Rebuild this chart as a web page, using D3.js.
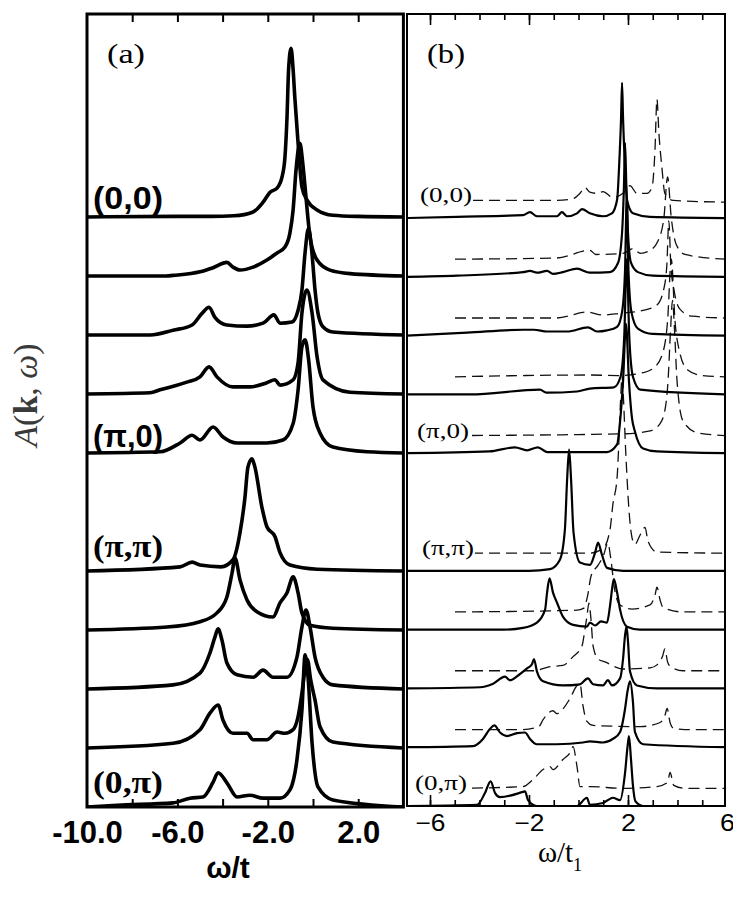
<!DOCTYPE html>
<html><head><meta charset="utf-8">
<script src="https://cdn.jsdelivr.net/npm/d3@7"></script>
<style>body{margin:0;background:#fff}</style>
</head><body>
<svg id="chart" width="733" height="907"></svg>
<script>
// ---------- DATA : [omega, A] pairs (A in units of curve spacing) ----------
// Panel (a)
const a_00  = [[-10,0],[-6,0.01],[-4.5,0.01],[-3.5,0.02],[-2.65,0.085],[-2.21,0.25],[-1.9,0.42],[-1.59,0.49],[-1.37,0.68],[-1.24,1.02],[-1.15,1.69],[-1.08,2.5],[-0.97,2.86],[-0.88,2.5],[-0.8,2.0],[-0.66,1.25],[-0.49,0.51],[-0.27,0.29],[0.18,0.12],[0.88,0.03],[2,0.01],[4,0]];
const a_k1  = [[-10,0],[-6.5,0],[-6.19,0.01],[-5.0,0.07],[-4.42,0.14],[-3.81,0.23],[-3.54,0.15],[-3.23,0.1],[-2.65,0.15],[-2.04,0.27],[-1.59,0.39],[-1.24,0.49],[-1.02,0.73],[-0.88,1.12],[-0.75,1.8],[-0.58,2.25],[-0.45,1.9],[-0.35,1.5],[-0.13,0.66],[0.18,0.27],[0.75,0.1],[1.64,0.04],[4,0]];
const a_k2  = [[-10,0],[-7.2,0],[-6.19,0.08],[-5.35,0.17],[-4.9,0.37],[-4.6,0.47],[-4.34,0.3],[-3.81,0.17],[-2.92,0.15],[-2.21,0.2],[-1.73,0.34],[-1.46,0.2],[-0.93,0.22],[-0.66,0.42],[-0.49,0.76],[-0.35,1.4],[-0.2,1.81],[-0.05,1.4],[0.09,0.76],[0.22,0.37],[0.44,0.14],[0.88,0.05],[4,0]];
const a_k3  = [[-10,0],[-7.21,0.02],[-6.77,0.07],[-5.58,0.2],[-5.0,0.29],[-4.6,0.46],[-4.25,0.29],[-3.54,0.12],[-2.79,0.12],[-2.04,0.19],[-1.68,0.24],[-1.46,0.15],[-0.88,0.24],[-0.66,0.53],[-0.49,1.37],[-0.27,1.76],[-0.04,1.37],[0.18,0.63],[0.44,0.24],[1.64,0.03],[4,0]];
const a_pi0 = [[-10,0],[-6.77,0.02],[-5.88,0.17],[-5.35,0.3],[-5.0,0.22],[-4.42,0.44],[-3.98,0.27],[-3.36,0.17],[-2.04,0.17],[-1.33,0.22],[-0.88,0.5],[-0.66,1.07],[-0.49,1.8],[-0.35,1.92],[-0.2,1.6],[0.0,0.78],[0.31,0.34],[0.88,0.1],[2.39,0.02],[4,0]];
const a_pipi= [[-10,0],[-5.88,0.07],[-5.35,0.15],[-5.0,0.1],[-4.07,0.07],[-3.54,0.19],[-3.23,0.65],[-3.01,1.25],[-2.88,1.76],[-2.7,1.9],[-2.57,1.76],[-2.26,1.08],[-2.04,0.75],[-1.68,0.58],[-1.46,0.31],[-1.02,0.1],[0.18,0.03],[4,0]];
const a_q3  = [[-10,0],[-6.46,0.05],[-5.0,0.14],[-4.25,0.29],[-3.81,0.56],[-3.58,0.97],[-3.45,1.22],[-3.23,0.85],[-2.92,0.51],[-2.48,0.31],[-1.77,0.22],[-1.46,0.46],[-1.15,0.63],[-0.88,0.9],[-0.66,0.63],[-0.49,0.29],[-0.13,0.08],[0.88,0.03],[4,0]];
const a_q2  = [[-10,0],[-6.19,0.07],[-5.0,0.27],[-4.56,0.61],[-4.34,0.88],[-4.2,1.02],[-4.03,0.83],[-3.81,0.44],[-3.36,0.24],[-2.65,0.2],[-2.21,0.32],[-1.77,0.2],[-1.15,0.2],[-0.71,0.54],[-0.49,1.05],[-0.31,1.34],[-0.13,1.05],[0.09,0.54],[0.44,0.2],[0.88,0.07],[4,0]];
const a_q1  = [[-10,0],[-6.19,0.08],[-5.0,0.31],[-4.56,0.59],[-4.2,0.73],[-3.98,0.47],[-3.54,0.25],[-2.92,0.25],[-2.65,0.14],[-2.04,0.14],[-1.59,0.27],[-1.24,0.25],[-0.88,0.31],[-0.66,0.53],[-0.49,0.93],[-0.35,1.35],[-0.25,1.5],[-0.1,1.15],[0.09,0.81],[0.31,0.36],[0.88,0.1],[4,0]];
const a_0pi = [[-10,0],[-8.67,0.03],[-6.19,0.07],[-5.44,0.15],[-4.87,0.17],[-4.42,0.42],[-4.2,0.58],[-3.81,0.41],[-3.36,0.17],[-2.79,0.2],[-2.21,0.15],[-1.46,0.15],[-1.02,0.29],[-0.71,0.8],[-0.49,1.64],[-0.35,2.58],[-0.22,2.2],[-0.04,1.08],[0.22,0.34],[0.88,0.12],[4,0]];

// Panel (b) solid
const b_00s  = [[-6.93,0],[-4.91,0.02],[-2.24,0.05],[-1.96,0.1],[-1.68,0.03],[-0.87,0.03],[-0.67,0.1],[-0.46,0.03],[-0.06,0.08],[0.14,0.15],[0.46,0.08],[0.99,0.03],[1.35,0.08],[1.56,0.31],[1.64,0.87],[1.72,1.7],[1.76,2.3],[1.8,1.7],[1.88,0.87],[1.96,0.31],[2.2,0.08],[2.89,0.02],[5.92,0]];
const b_k1s  = [[-6.93,0],[-4.91,0.02],[-2.24,0.08],[-1.96,0.1],[-1.68,0.07],[-1.27,0.1],[-1.03,0.05],[-0.63,0.08],[-0.06,0.14],[0.46,0.07],[1.27,0.08],[1.6,0.24],[1.76,0.75],[1.84,1.6],[1.88,2.28],[1.93,1.6],[2.0,0.75],[2.12,0.24],[2.4,0.08],[3.0,0.02],[5.92,0]];
const b_k2s  = [[-6.93,0],[-4.5,0.05],[-2.24,0.1],[-1.8,0.1],[-1.27,0.07],[-0.46,0.07],[0.38,0.14],[0.75,0.07],[1.15,0.09],[1.56,0.15],[1.76,0.4],[1.88,1.1],[1.95,2.35],[2.02,1.1],[2.14,0.4],[2.4,0.12],[3.0,0.03],[5.92,0]];
const b_k3s  = [[-6.93,0],[-4.38,0],[-1.56,0.08],[-1.3,0.03],[-0.06,0.05],[0.46,0.1],[1.43,0.12],[1.7,0.3],[1.85,1.0],[1.95,2.3],[2.05,1.0],[2.2,0.3],[2.5,0.08],[5.92,0]];
const b_pi0s = [[-6.93,0],[-3.6,0.03],[-2.57,0.1],[-2.08,0.05],[-1.64,0.1],[-1.27,0.02],[1.15,0.02],[1.56,0.15],[1.68,0.54],[1.8,1.22],[1.92,2.2],[2.04,1.22],[2.16,0.6],[2.28,0.37],[2.61,0.08],[3.17,0.03],[5.92,0]];
const b_pipis= [[-6.93,0],[-2.0,0],[-1.15,0.03],[-0.75,0.19],[-0.55,0.7],[-0.46,1.55],[-0.38,2.06],[-0.3,1.55],[-0.2,0.65],[0.06,0.14],[0.46,0.1],[0.67,0.31],[0.79,0.48],[0.95,0.27],[1.15,0.05],[1.8,0],[5.92,0]];
const b_q3s  = [[-6.93,0],[-3.0,0],[-2.24,0.03],[-1.68,0.12],[-1.35,0.34],[-1.27,0.63],[-1.17,0.87],[-1.03,0.63],[-0.87,0.46],[-0.63,0.22],[-0.22,0.08],[0.34,0.05],[0.46,0.12],[0.67,0.07],[0.91,0.14],[1.15,0.12],[1.27,0.39],[1.37,0.73],[1.43,0.86],[1.56,0.63],[1.68,0.34],[1.96,0.05],[2.48,0],[5.92,0]];
const b_q2s  = [[-6.93,0],[-3.98,0.02],[-3.45,0.08],[-2.97,0.2],[-2.77,0.14],[-2.44,0.22],[-2.08,0.34],[-1.88,0.41],[-1.8,0.5],[-1.68,0.29],[-1.43,0.12],[-0.63,0.05],[0.06,0.07],[0.38,0.17],[0.59,0.07],[0.99,0.05],[1.19,0.14],[1.35,0.05],[1.68,0.17],[1.8,0.5],[1.88,0.9],[1.94,1.05],[2.0,0.8],[2.08,0.29],[2.36,0.05],[3.17,0],[5.92,0]];
const b_q1s  = [[-6.93,0],[-4.26,0.02],[-3.86,0.14],[-3.58,0.31],[-3.4,0.37],[-3.17,0.25],[-2.89,0.19],[-2.48,0.24],[-2.16,0.25],[-1.96,0.14],[-1.68,0.05],[-0.87,0.05],[0.18,0.08],[0.46,0.1],[0.99,0.08],[1.39,0.14],[1.68,0.26],[1.88,0.65],[1.98,0.95],[2.08,1.12],[2.2,0.77],[2.28,0.26],[2.61,0.05],[5.92,0]];
const b_0pis = [[-6.93,0],[-4.1,0.02],[-3.78,0.22],[-3.55,0.42],[-3.37,0.22],[-3.17,0.15],[-2.24,0.24],[-2.16,0.25],[-2.04,0.1],[-1.68,0],[-0.06,0],[0.34,0.14],[0.46,0.02],[0.99,0.05],[1.39,0.14],[1.68,0.1],[1.88,0.56],[1.98,1.0],[2.04,1.19],[2.12,0.8],[2.2,0.35],[2.3,0.08],[2.61,0],[5.92,0]];

// Panel (b) dashed
const b_00d  = [[-4.99,0],[-2.24,0],[-0.87,0],[-0.22,0.03],[0.06,0.12],[0.26,0.22],[0.46,0.14],[0.75,0.12],[0.99,0.15],[1.39,0.05],[1.8,0.12],[2.08,0.25],[2.36,0.12],[2.77,0.12],[2.97,0.22],[3.09,0.85],[3.17,1.72],[3.25,1.14],[3.37,0.56],[3.49,0.12],[3.82,0],[5.92,-0.03]];
const b_k1d  = [[-4.99,0],[-0.87,0.02],[0.46,0.15],[0.7,0.08],[1.8,0.1],[2.2,0.18],[2.5,0.1],[2.89,0.15],[3.2,0.3],[3.45,0.7],[3.6,1.4],[3.75,0.7],[3.95,0.25],[4.3,0.08],[5.92,0]];
const b_k2d  = [[-4.99,0],[-0.87,0],[0.34,0.1],[0.99,0.05],[1.68,0.08],[2.61,0.13],[3.17,0.22],[3.45,0.5],[3.57,0.9],[3.65,1.65],[3.73,0.9],[3.85,0.5],[4.1,0.15],[4.6,0.03],[5.92,0]];
const b_k3d  = [[-4.99,0],[0.46,0.03],[1.56,0.02],[2.61,0.07],[3.01,0.14],[3.4,0.4],[3.6,0.95],[3.75,2.0],[3.9,0.95],[4.1,0.4],[4.4,0.12],[5.0,0.02],[5.92,0]];
const b_pi0d = [[-4.99,0],[1.8,0.03],[2.89,0.08],[3.29,0.2],[3.5,0.45],[3.62,0.94],[3.72,1.8],[3.8,2.3],[3.88,1.8],[3.98,0.94],[4.22,0.25],[4.79,0.05],[5.92,0]];
const b_pipid= [[-4.99,0],[0.46,0],[0.99,0.08],[1.27,0.39],[1.39,0.83],[1.56,1.29],[1.64,1.97],[1.7,2.6],[1.76,3.0],[1.82,2.6],[1.9,1.8],[1.96,1.29],[2.04,0.73],[2.16,0.27],[2.28,0.15],[2.48,0.3],[2.69,0.44],[2.81,0.2],[3.17,0.02],[5.92,0]];
const b_q3d  = [[-4.99,0],[-0.06,0.03],[0.2,0.06],[0.38,0.3],[0.5,0.6],[0.8,0.8],[1.0,0.95],[1.19,1.17],[1.3,0.92],[1.47,0.36],[1.68,0.12],[2.16,0.05],[2.89,0.12],[3.1,0.3],[3.17,0.42],[3.3,0.2],[3.41,0.08],[4.2,0],[5.92,0]];
const b_q2d  = [[-4.99,0],[-1.84,0],[-1.15,0.07],[-0.63,0.09],[-0.22,0.24],[0.14,0.42],[0.26,0.7],[0.34,0.92],[0.42,1.15],[0.5,0.9],[0.59,0.42],[0.79,0.2],[1.07,0.15],[1.8,0.03],[2.9,0.05],[3.17,0.1],[3.4,0.25],[3.49,0.37],[3.6,0.15],[3.7,0.08],[4.22,0],[5.92,0]];
const b_q1d  = [[-4.99,0],[-2.24,0],[-1.6,0.05],[-1.43,0.17],[-1.03,0.32],[-0.87,0.27],[-0.75,0.3],[-0.34,0.53],[-0.06,0.75],[0.06,0.78],[0.18,0.41],[0.34,0.14],[0.6,0.07],[2.5,0.05],[3.3,0.12],[3.5,0.25],[3.58,0.36],[3.7,0.12],[3.82,0.03],[4.3,0],[5.92,0]];
const b_0pid = [[-4.99,0],[-2.24,0.03],[-1.84,0.15],[-1.43,0.32],[-1.15,0.37],[-1.03,0.32],[-0.63,0.49],[-0.34,0.61],[-0.22,0.71],[-0.06,0.37],[0.06,0.03],[0.46,0.03],[1.8,0],[3.17,0.03],[3.6,0.1],[3.7,0.27],[3.85,0.05],[4.3,0],[5.92,0]];

// vertical slot (offset) of each curve, top (0,0)=10 ... bottom (0,pi)=0
const slots = [10, 9, 8, 7, 6, 4, 3, 2, 1, 0];
const curvesA = [a_00, a_k1, a_k2, a_k3, a_pi0, a_pipi, a_q3, a_q2, a_q1, a_0pi];
const curvesBsolid  = [b_00s, b_k1s, b_k2s, b_k3s, b_pi0s, b_pipis, b_q3s, b_q2s, b_q1s, b_0pis];
const curvesBdashed = [b_00d, b_k1d, b_k2d, b_k3d, b_pi0d, b_pipid, b_q3d, b_q2d, b_q1d, b_0pid];
const dashOffset = 0.3;

const kLabels = ["(0,0)", "(π,0)", "(π,π)", "(0,π)"];
const kLabelSlots = [10, 6, 4, 0];

const ticksA = [-10, -6, -2, 2];
const minorTicksA = [-8, -6, -4, -2, 0, 2];
const ticksB = [-6, -2, 2, 6];
const minorTicksB = [-6, -5, -4, -3, -2, -1, 0, 1, 2, 3, 4, 5];

// ---------- DRAW ----------
const svg = d3.select("#chart");
const xA = d3.scaleLinear().domain([-10, 4]).range([87, 403.4]);
const yA = d3.scaleLinear().domain([0, 13.44]).range([807, 14]);
const xB = d3.scaleLinear().domain([-6.93, 5.92]).range([407, 725]);
const yB = d3.scaleLinear().domain([0, 13.47]).range([806, 14]);

const defs = svg.append("defs");
defs.append("clipPath").attr("id", "clipA").append("rect")
  .attr("x", xA(-10)).attr("y", yA(13.44)).attr("width", xA(4) - xA(-10)).attr("height", yA(0) - yA(13.44));
defs.append("clipPath").attr("id", "clipB").append("rect")
  .attr("x", xB(-6.93)).attr("y", yB(13.47)).attr("width", xB(5.92) - xB(-6.93)).attr("height", yB(0) - yB(13.47));

// Panel (a) curves
const gA = svg.append("g").attr("clip-path", "url(#clipA)");
curvesA.forEach((data, i) => {
  const s = slots[i];
  const line = d3.line().x(d => xA(d[0])).y(d => yA(s + d[1])).curve(d3.curveMonotoneX);
  gA.append("path").attr("d", line(data)).attr("fill", "none")
    .attr("stroke", "#000").attr("stroke-width", 3.6).attr("stroke-linejoin", "round");
});

// Panel (b) curves
const gB = svg.append("g").attr("clip-path", "url(#clipB)");
curvesBdashed.forEach((data, i) => {
  const s = slots[i] + dashOffset;
  const line = d3.line().x(d => xB(d[0])).y(d => yB(s + d[1])).curve(d3.curveMonotoneX);
  gB.append("path").attr("d", line(data)).attr("fill", "none")
    .attr("stroke", "#111").attr("stroke-width", 1.3).attr("stroke-dasharray", "11 6");
});
curvesBsolid.forEach((data, i) => {
  const s = slots[i];
  const line = d3.line().x(d => xB(d[0])).y(d => yB(s + d[1])).curve(d3.curveMonotoneX);
  gB.append("path").attr("d", line(data)).attr("fill", "none")
    .attr("stroke", "#000").attr("stroke-width", 2.2).attr("stroke-linejoin", "round");
});

// Frames
svg.append("rect").attr("x", xA(-10)).attr("y", yA(13.44))
  .attr("width", xA(4) - xA(-10)).attr("height", yA(0) - yA(13.44))
  .attr("fill", "none").attr("stroke", "#000").attr("stroke-width", 3);
svg.append("rect").attr("x", xB(-6.93)).attr("y", yB(13.47))
  .attr("width", xB(5.92) - xB(-6.93)).attr("height", yB(0) - yB(13.47))
  .attr("fill", "none").attr("stroke", "#000").attr("stroke-width", 2);

// Ticks panel (a)
function styleAxis(g) { g.select(".domain").remove(); g.selectAll("line").attr("stroke", "#000").attr("stroke-width", 2); }
svg.append("g").attr("transform", `translate(0,${yA(0)})`)
  .call(d3.axisBottom(xA).tickValues(minorTicksA).tickSize(-8).tickFormat(""))
  .call(styleAxis);
svg.append("g").attr("transform", `translate(0,${yA(13.44)})`)
  .call(d3.axisTop(xA).tickValues(minorTicksA).tickSize(-8).tickFormat(""))
  .call(styleAxis);
const axA = svg.append("g").attr("transform", `translate(0,${yA(0)})`)
  .call(d3.axisBottom(xA).tickValues(ticksA).tickSize(0).tickFormat(d3.format(".1f")));
axA.select(".domain").remove();
axA.selectAll("text").attr("y", 36).attr("dy", 0)
  .attr("font-family", "Liberation Sans, Arial, sans-serif").attr("font-weight", "bold")
  .attr("font-size", 31).attr("fill", "#000").text(d => d3.format(".1f")(d).replace("−", "-"));

// Ticks panel (b)
function styleAxisB(g) { g.select(".domain").remove(); g.selectAll("line").attr("stroke", "#000").attr("stroke-width", 1.6); }
svg.append("g").attr("transform", `translate(0,${yB(0)})`)
  .call(d3.axisBottom(xB).tickValues(minorTicksB).tickSize(-6).tickFormat("")).call(styleAxisB);
svg.append("g").attr("transform", `translate(0,${yB(0)})`)
  .call(d3.axisBottom(xB).tickValues([-6, -2, 2]).tickSize(-11).tickFormat("")).call(styleAxisB);
svg.append("g").attr("transform", `translate(0,${yB(13.47)})`)
  .call(d3.axisTop(xB).tickValues(minorTicksB).tickSize(-6).tickFormat("")).call(styleAxisB);
svg.append("g").attr("transform", `translate(0,${yB(13.47)})`)
  .call(d3.axisTop(xB).tickValues([-6, -2, 2]).tickSize(-11).tickFormat("")).call(styleAxisB);
const axB = svg.append("g").attr("transform", `translate(0,${yB(0)})`)
  .call(d3.axisBottom(xB).tickValues(ticksB).tickSize(0).tickFormat(d3.format("d")));
axB.select(".domain").remove();
axB.selectAll("text").attr("y", 25).attr("dy", 0)
  .attr("font-family", "Liberation Sans, Arial, sans-serif")
  .attr("font-size", 23).attr("fill", "#000")
  .attr("textLength", d => d < 0 ? 30 : 15).attr("lengthAdjust", "spacingAndGlyphs");

// Axis titles
svg.append("text").attr("x", 228).attr("y", 878).attr("text-anchor", "middle")
  .attr("font-family", "Liberation Sans, Arial, sans-serif").attr("font-weight", "bold")
  .attr("font-size", 30).text("ω/t");
const xtB = svg.append("text").attr("x", 560).attr("y", 862).attr("text-anchor", "middle")
  .attr("font-family", "Liberation Serif, Times New Roman, serif").attr("font-size", 29);
xtB.append("tspan").text("ω/t");
xtB.append("tspan").attr("font-size", 18).attr("dy", 9).text("1");

const yl = svg.append("text").attr("transform", "translate(37,395) rotate(-90)")
  .attr("text-anchor", "middle").attr("font-family", "Liberation Serif, Times New Roman, serif")
  .attr("font-size", 34).attr("fill", "#3a3a3a");
yl.append("tspan").attr("font-style", "italic").text("A");
yl.append("tspan").text("(");
yl.append("tspan").attr("font-weight", "bold").text("k");
yl.append("tspan").text(", ");
yl.append("tspan").attr("font-style", "italic").text("ω");
yl.append("tspan").text(")");

// Panel letters
svg.append("text").attr("x", 107).attr("y", 63).attr("font-family", "Liberation Serif, Times New Roman, serif")
  .attr("font-size", 27).attr("textLength", 38).attr("lengthAdjust", "spacingAndGlyphs").text("(a)");
svg.append("text").attr("x", 427).attr("y", 63).attr("font-family", "Liberation Serif, Times New Roman, serif")
  .attr("font-size", 27).attr("textLength", 38).attr("lengthAdjust", "spacingAndGlyphs").text("(b)");

// k-point labels, panel (a)
const aLabelDy = [-8, -6, -14, -14];
const aLabelFont = ["Liberation Sans, Arial, sans-serif", "Liberation Sans, Arial, sans-serif", "Liberation Serif, serif", "Liberation Serif, serif"];
kLabels.forEach((t, i) => {
  svg.append("text").attr("x", 93).attr("y", yA(kLabelSlots[i]) + aLabelDy[i])
    .attr("font-family", aLabelFont[i]).attr("font-weight", "bold").attr("font-size", 31)
    .attr("textLength", 70).attr("lengthAdjust", "spacingAndGlyphs").text(t);
});
// k-point labels, panel (b)
const bLabelX = [420, 417, 422, 415];
kLabels.forEach((t, i) => {
  const tx = svg.append("text").attr("x", bLabelX[i]).attr("y", yB(kLabelSlots[i] + dashOffset) + 2)
    .attr("font-family", "Liberation Serif, Times New Roman, serif").attr("font-size", 22)
    .attr("textLength", 52).attr("lengthAdjust", "spacingAndGlyphs").text(t);
  const bb = tx.node().getBBox();
  svg.insert("rect", () => tx.node()).attr("x", bb.x - 1).attr("y", bb.y + 2)
    .attr("width", bb.width + 2).attr("height", bb.height - 4).attr("fill", "#fff");
});
</script>
</body></html>
